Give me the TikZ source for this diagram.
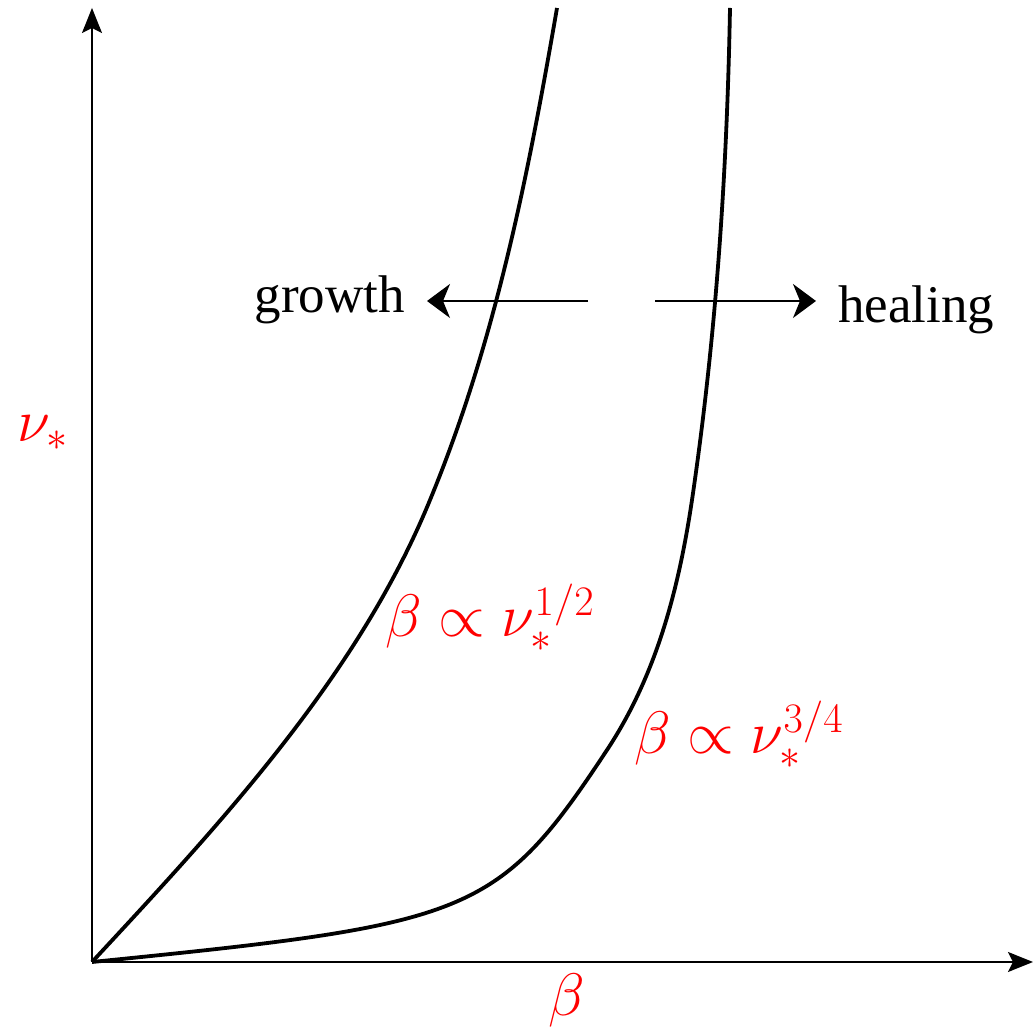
\RequirePackage{fix-cm}
\documentclass[tikz,border=0pt]{standalone}
\usepackage[no-math]{fontspec}
\newfontfamily\tnr{Liberation Serif}
\usetikzlibrary{arrows.meta}

\begin{document}
\begin{tikzpicture}[
    x=1pt,y=1pt,
    axis/.style={line width=1.6pt,-{Stealth[length=25pt,width=20pt,inset=5pt]}},
    curve/.style={line width=3.8pt,line join=round},
    dir/.style={line width=2pt,-{Stealth[length=23pt,width=34pt,inset=7pt]}},
    lab/.style={text=red,inner sep=0pt,font=\fontsize{60}{66}\selectfont},
    word/.style={inner sep=0pt,font=\tnr\fontsize{53}{60}\selectfont}
  ]
    \useasboundingbox (-92,-65) rectangle (944,962);
    \coordinate (O) at (0,0); \coordinate (ytop) at (0,954); \coordinate (xend) at (941,0);
    \draw[axis] (O)--(ytop); \draw[axis] (O)--(xend);
    % the two boundaries
    \coordinate (a1) at (338,462); \coordinate (a2) at (465,954);
    \draw[curve] (O) .. controls (129,139) and (266,286) .. (a1)
      .. controls (403,619) and (436,786) .. (a2);
    \coordinate (b1) at (515,212); \coordinate (b2) at (600,462); \coordinate (b3) at (638,954);
    \draw[curve] (O) .. controls (378,38) and (405,45) .. (b1)
      .. controls (564.5,287) and (586.7,373) .. (b2)
      .. controls (624,625) and (635,789) .. (b3);
    \coordinate (g0) at (496,661); \coordinate (g1) at (335,661);
    \coordinate (h0) at (563,661); \coordinate (h1) at (724,661);
    \draw[dir] (g0)--(g1); \draw[dir] (h0)--(h1);
    \node[word,anchor=base east] (growth) at (313,649) {growth};
    \node[word,anchor=base west] (healing) at (746,639) {healing};
    \node[lab,anchor=base west] (nu) at (-75,520) {$\nu_*$};
    \node[lab,anchor=base west] (beta) at (456,-54) {$\beta$};
    \node[lab,anchor=base west] (half) at (293,325) {$\beta\propto\nu_*^{1/2}$};
    \node[lab,anchor=base west] (threeq) at (542,208) {$\beta\propto\nu_*^{3/4}$};
  \end{tikzpicture}
\end{document}
